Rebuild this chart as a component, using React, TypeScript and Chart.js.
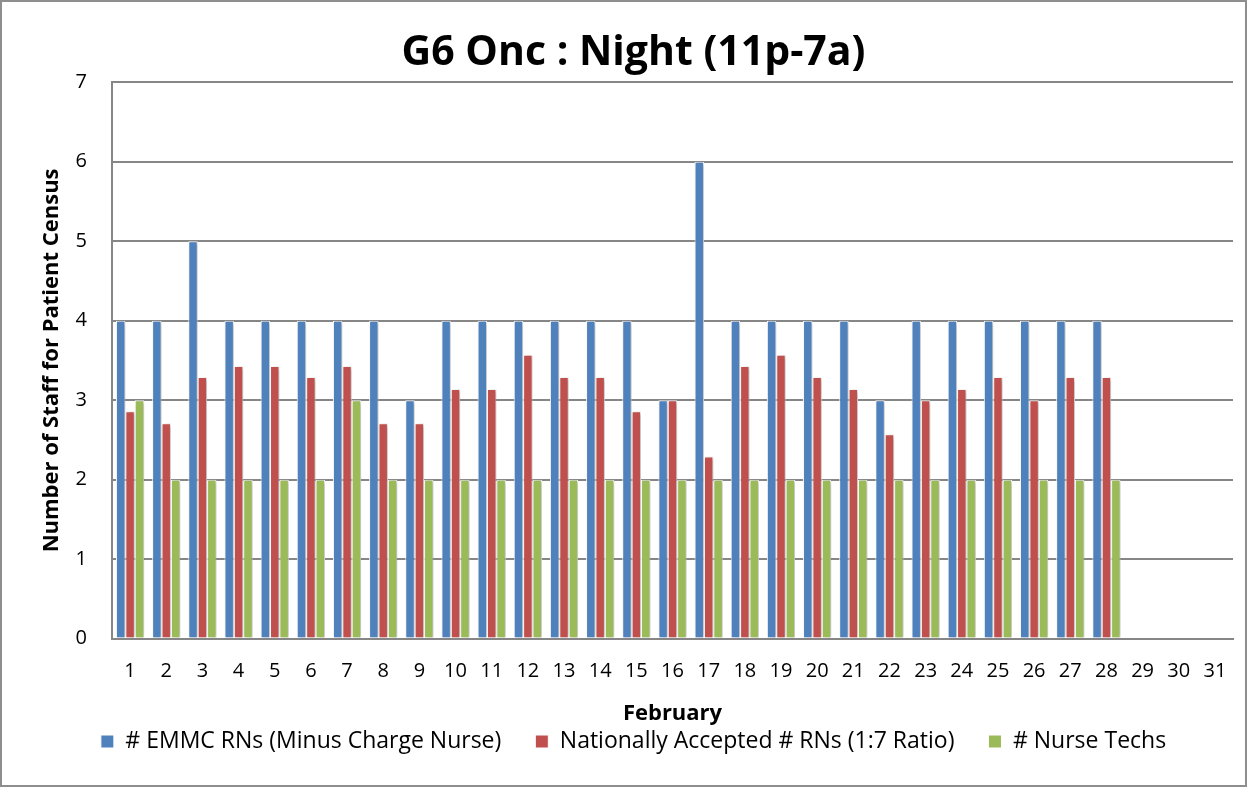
import React, { useEffect, useRef } from "react";
import { Chart, registerables } from "chart.js";

Chart.register(...registerables);

const days: string[] = [
  "1","2","3","4","5","6","7","8","9","10","11","12","13","14","15","16",
  "17","18","19","20","21","22","23","24","25","26","27","28","29","30","31",
];

const emmcRNs: (number | null)[] = [
  4, 4, 5, 4, 4, 4, 4, 4, 3, 4, 4, 4, 4, 4, 4, 3, 6, 4, 4, 4, 4, 3, 4, 4, 4, 4, 4, 4,
  null, null, null,
];

const nationalRNs: (number | null)[] = [
  2.86, 2.71, 3.29, 3.43, 3.43, 3.29, 3.43, 2.71, 2.71, 3.14, 3.14, 3.57, 3.29, 3.29,
  2.86, 3.0, 2.29, 3.43, 3.57, 3.29, 3.14, 2.57, 3.0, 3.14, 3.29, 3.0, 3.29, 3.29,
  null, null, null,
];

const nurseTechs: (number | null)[] = [
  3, 2, 2, 2, 2, 2, 3, 2, 2, 2, 2, 2, 2, 2, 2, 2, 2, 2, 2, 2, 2, 2, 2, 2, 2, 2, 2, 2,
  null, null, null,
];

const seriesLabels = [
  "# EMMC RNs (Minus Charge Nurse)",
  "Nationally Accepted # RNs (1:7 Ratio)",
  "# Nurse Techs",
];

const titleText = "G6 Onc : Night (11p-7a)";
const xTitle = "February";
const yTitle = "Number of Staff for Patient Census";

const FONT = "'Open Sans', 'Noto Sans', sans-serif";

const shadowPlugin = {
  id: "barShadow",
  afterLayout(chart: any) {
    const xs = chart.scales && chart.scales.x;
    const area = chart.chartArea;
    if (xs && area && area.right > xs.right) {
      area.right = xs.right;
      area.width = xs.right - area.left;
    }
  },
  beforeDatasetsDraw(chart: any) {
    const ctx = chart.ctx;
    ctx.save();
    ctx.shadowColor = "rgba(0,0,0,0.28)";
    ctx.shadowBlur = 4;
    ctx.shadowOffsetX = 2;
    ctx.shadowOffsetY = 1;
  },
  afterDatasetsDraw(chart: any) {
    chart.ctx.restore();
  },
};

export default function App() {
  const ref = useRef<HTMLCanvasElement | null>(null);

  useEffect(() => {
    document.body.style.margin = "0";
    const canvas = ref.current;
    if (!canvas) return;
    const chart = new Chart(canvas, {
      type: "bar",
      data: {
        labels: days,
        datasets: [
          {
            label: seriesLabels[0],
            data: emmcRNs,
            backgroundColor: "#4F81BD",
            borderColor: "#FFFFFF",
            borderWidth: 1,
          },
          {
            label: seriesLabels[1],
            data: nationalRNs,
            backgroundColor: "#C0504D",
            borderColor: "#FFFFFF",
            borderWidth: 1,
          },
          {
            label: seriesLabels[2],
            data: nurseTechs,
            backgroundColor: "#9BBB59",
            borderColor: "#FFFFFF",
            borderWidth: 1,
          },
        ],
      },
      options: {
        responsive: false,
        animation: false,
        datasets: {
          bar: { categoryPercentage: 0.78, barPercentage: 1.0 },
        },
        layout: { padding: { left: 32, right: 12, top: 27, bottom: 22 } },
        plugins: {
          title: {
            display: true,
            text: titleText,
            color: "#000",
            font: { family: FONT, size: 41, weight: "bold" },
            padding: { top: 0, bottom: 4 },
          },
          legend: {
            position: "bottom",
            title: {
              display: true,
              text: "",
              font: { family: FONT, size: 10 },
              padding: { top: 0, bottom: -43 },
            },
            labels: {
              color: "#000",
              font: { family: FONT, size: 23 },
              boxWidth: 13,
              boxHeight: 13,
              padding: 34,
            },
          },
          tooltip: { enabled: false },
        },
        scales: {
          x: {
            grid: { display: false },
            border: { display: true, color: "#868686", width: 2 },
            ticks: {
              color: "#000",
              font: { family: FONT, size: 20 },
              maxRotation: 0,
              autoSkip: false,
              padding: 13,
            },
            title: {
              display: true,
              text: xTitle,
              color: "#000",
              font: { family: FONT, size: 22, weight: "bold" },
              padding: { top: 4, bottom: 0 },
            },
          },
          y: {
            min: 0,
            max: 7,
            afterFit: (scale: any) => {
              scale.width = 78;
            },
            grid: { color: "#868686", lineWidth: 2, drawTicks: false },
            border: { display: true, color: "#868686", width: 2 },
            ticks: {
              stepSize: 1,
              color: "#000",
              font: { family: FONT, size: 20 },
              padding: 25,
            },
            title: {
              display: true,
              text: yTitle,
              color: "#000",
              font: { family: FONT, size: 22, weight: "bold" },
              padding: { top: 5, bottom: 0 },
            },
          },
        },
      },
      plugins: [shadowPlugin],
    });
    return () => chart.destroy();
  }, []);

  return (
    <div
      style={{
        position: "fixed",
        left: 0,
        top: 0,
        width: 1247,
        height: 787,
        boxSizing: "border-box",
        border: "2px solid #8E8E8E",
        background: "#fff",
      }}
    >
      <canvas ref={ref} width={1243} height={783} style={{ display: "block" }} />
    </div>
  );
}
